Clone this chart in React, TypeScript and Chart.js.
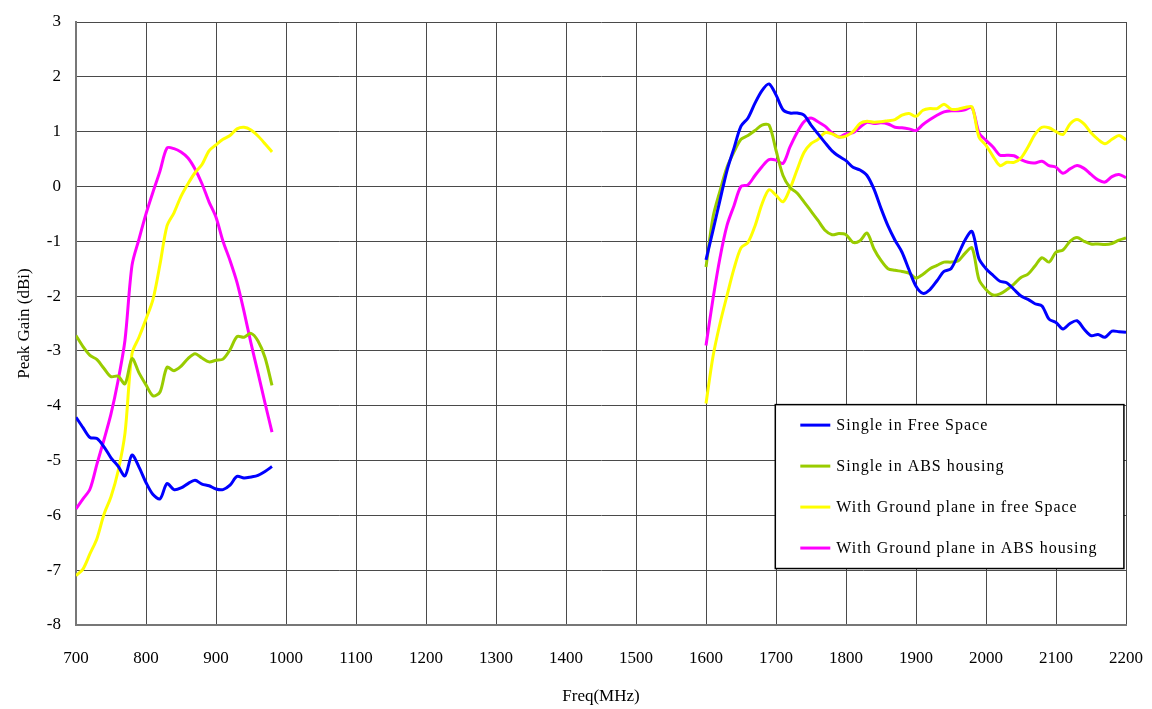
import React, { useEffect, useRef } from "react";
import { Chart, registerables } from "chart.js";

Chart.register(...registerables);

const freqLow = [700, 710, 720, 730, 740, 750, 760, 770, 780, 790, 800, 810, 820, 830, 840, 850, 860, 870, 880, 890, 900, 910, 920, 930, 940, 950, 960, 970, 980];
const freqHigh = [1600, 1610, 1620, 1630, 1640, 1650, 1660, 1670, 1680, 1690, 1700, 1710, 1720, 1730, 1740, 1750, 1760, 1770, 1780, 1790, 1800, 1810, 1820, 1830, 1840, 1850, 1860, 1870, 1880, 1890, 1900, 1910, 1920, 1930, 1940, 1950, 1960, 1970, 1980, 1990, 2000, 2010, 2020, 2030, 2040, 2050, 2060, 2070, 2080, 2090, 2100, 2110, 2120, 2130, 2140, 2150, 2160, 2170, 2180, 2190, 2200];

const singleFreeLow = [-4.21, -4.40, -4.58, -4.60, -4.75, -4.95, -5.10, -5.28, -4.90, -5.12, -5.40, -5.62, -5.70, -5.42, -5.53, -5.50, -5.42, -5.36, -5.43, -5.46, -5.52, -5.53, -5.45, -5.29, -5.32, -5.30, -5.27, -5.20, -5.11];
const singleFreeHigh = [-1.34, -0.80, -0.25, 0.29, 0.70, 1.10, 1.25, 1.52, 1.75, 1.87, 1.67, 1.40, 1.34, 1.34, 1.30, 1.12, 0.96, 0.80, 0.65, 0.55, 0.47, 0.35, 0.30, 0.20, -0.05, -0.40, -0.72, -0.98, -1.20, -1.52, -1.82, -1.95, -1.88, -1.72, -1.55, -1.50, -1.25, -0.98, -0.82, -1.32, -1.50, -1.62, -1.73, -1.76, -1.88, -2.00, -2.06, -2.14, -2.18, -2.42, -2.48, -2.60, -2.50, -2.45, -2.60, -2.72, -2.70, -2.75, -2.64, -2.65, -2.66];

const singleAbsLow = [-2.72, -2.92, -3.08, -3.16, -3.32, -3.47, -3.46, -3.60, -3.14, -3.40, -3.62, -3.82, -3.75, -3.30, -3.36, -3.28, -3.14, -3.05, -3.13, -3.20, -3.17, -3.15, -2.98, -2.74, -2.75, -2.68, -2.82, -3.12, -3.63];
const singleAbsHigh = [-1.47, -0.56, -0.08, 0.35, 0.63, 0.86, 0.93, 1.02, 1.12, 1.12, 0.66, 0.20, -0.02, -0.12, -0.28, -0.45, -0.62, -0.80, -0.88, -0.86, -0.88, -1.02, -0.99, -0.85, -1.14, -1.35, -1.50, -1.53, -1.55, -1.58, -1.67, -1.60, -1.50, -1.44, -1.38, -1.38, -1.36, -1.22, -1.12, -1.70, -1.88, -1.98, -1.96, -1.88, -1.78, -1.66, -1.60, -1.45, -1.30, -1.38, -1.20, -1.16, -1.00, -0.93, -1.00, -1.05, -1.05, -1.06, -1.04, -0.98, -0.94];

const gpFreeLow = [-7.10, -6.98, -6.70, -6.42, -5.98, -5.66, -5.20, -4.50, -3.05, -2.75, -2.42, -2.06, -1.42, -0.72, -0.48, -0.18, 0.05, 0.25, 0.40, 0.65, 0.76, 0.86, 0.93, 1.05, 1.08, 1.03, 0.92, 0.78, 0.63];
const gpFreeHigh = [-3.96, -3.10, -2.50, -1.99, -1.50, -1.12, -1.02, -0.72, -0.32, -0.06, -0.16, -0.28, -0.04, 0.30, 0.62, 0.78, 0.86, 0.98, 0.96, 0.90, 0.92, 1.00, 1.15, 1.19, 1.17, 1.18, 1.20, 1.22, 1.30, 1.33, 1.28, 1.39, 1.42, 1.42, 1.50, 1.41, 1.41, 1.44, 1.45, 0.90, 0.75, 0.55, 0.38, 0.44, 0.44, 0.52, 0.72, 0.95, 1.08, 1.07, 1.00, 0.95, 1.14, 1.22, 1.14, 0.98, 0.86, 0.78, 0.86, 0.93, 0.85];

const gpAbsLow = [-5.88, -5.70, -5.52, -5.06, -4.62, -4.15, -3.55, -2.80, -1.44, -0.96, -0.50, -0.10, 0.28, 0.70, 0.69, 0.63, 0.52, 0.32, 0.05, -0.28, -0.56, -1.00, -1.35, -1.75, -2.28, -2.86, -3.40, -3.95, -4.48];
const gpAbsHigh = [-2.90, -2.05, -1.30, -0.71, -0.35, 0.00, 0.03, 0.20, 0.36, 0.49, 0.48, 0.42, 0.72, 0.98, 1.18, 1.25, 1.18, 1.10, 0.98, 0.90, 0.96, 0.98, 1.08, 1.17, 1.15, 1.16, 1.14, 1.08, 1.07, 1.05, 1.02, 1.13, 1.22, 1.30, 1.36, 1.38, 1.38, 1.40, 1.44, 0.98, 0.84, 0.72, 0.57, 0.57, 0.56, 0.49, 0.44, 0.43, 0.46, 0.38, 0.35, 0.24, 0.32, 0.38, 0.33, 0.22, 0.12, 0.08, 0.18, 0.22, 0.16];

const seriesLabels = [
  "Single in Free Space",
  "Single in ABS housing",
  "With Ground plane in free Space",
  "With Ground plane in ABS housing",
];
const seriesColors = ["#0000FF", "#99CC00", "#FFFF00", "#FF00FF"];

const xTitle = "Freq(MHz)";
const yTitle = "Peak Gain (dBi)";

const FONT = "'Liberation Serif', 'Times New Roman', serif";

function build(low: number[], high: number[]) {
  const pts: { x: number; y: number | null }[] = [];
  freqLow.forEach((f, i) => pts.push({ x: f, y: low[i] }));
  pts.push({ x: 1300, y: null });
  freqHigh.forEach((f, i) => pts.push({ x: f, y: high[i] }));
  return pts;
}

const legendPlugin = {
  id: "boxLegend",
  afterDraw(chart: any) {
    const ctx = chart.ctx as CanvasRenderingContext2D;
    const xs = chart.scales.x;
    const ys = chart.scales.y;
    const left = xs.getPixelForValue(1699);
    const right = xs.getPixelForValue(2197);
    const top = ys.getPixelForValue(-3.98);
    const bottom = ys.getPixelForValue(-6.97);
    ctx.save();
    ctx.fillStyle = "#ffffff";
    ctx.fillRect(left, top, right - left, bottom - top);
    ctx.strokeStyle = "#000000";
    ctx.lineWidth = 1.5;
    ctx.strokeRect(left, top, right - left, bottom - top);
    const rowH = (bottom - top) / 4;
    ctx.font = `16px ${FONT}`;
    (ctx as any).letterSpacing = "1px";
    ctx.textBaseline = "middle";
    ctx.textAlign = "left";
    chart.data.datasets.forEach((ds: any, i: number) => {
      const y = top + rowH * (i + 0.5);
      ctx.strokeStyle = ds.borderColor;
      ctx.lineWidth = 3;
      ctx.beginPath();
      ctx.moveTo(left + 25, y);
      ctx.lineTo(left + 55, y);
      ctx.stroke();
      ctx.fillStyle = "#000000";
      ctx.fillText(ds.label, left + 61, y + 1);
    });
    ctx.restore();
  },
};

export default function App() {
  const ref = useRef<HTMLCanvasElement | null>(null);
  useEffect(() => {
    document.body.style.margin = "0";
    const lows = [singleFreeLow, singleAbsLow, gpFreeLow, gpAbsLow];
    const highs = [singleFreeHigh, singleAbsHigh, gpFreeHigh, gpAbsHigh];
    const chart = new Chart(ref.current as HTMLCanvasElement, {
      type: "line",
      data: {
        datasets: seriesLabels.map((label, i) => ({
          label,
          data: build(lows[i], highs[i]),
          borderColor: seriesColors[i],
          backgroundColor: seriesColors[i],
          borderWidth: 3,
          pointRadius: 0,
          tension: 0.3,
          spanGaps: false,
        })),
      },
      options: {
        animation: false,
        responsive: false,
        layout: { padding: { left: 0, right: 26, top: 22, bottom: 2 } },
        plugins: {
          legend: { display: false },
          tooltip: { enabled: false },
        },
        scales: {
          x: {
            type: "linear",
            min: 700,
            max: 2200,
            afterFit: (s: any) => {
              s.height = 709 - 2 - 625;
              s.paddingLeft = 0;
              s.paddingRight = 0;
            },
            ticks: {
              stepSize: 100,
              padding: 23,
              color: "#000",
              font: { family: FONT, size: 17 },
              maxRotation: 0,
              callback: (v: any) => String(v),
            },
            grid: { color: "#4a4a4a", lineWidth: 1, drawTicks: false },
            border: { color: "#777", width: 2 },
            title: {
              display: true,
              text: xTitle,
              color: "#000",
              font: { family: FONT, size: 17 },
              padding: 0,
            },
          },
          y: {
            type: "linear",
            min: -8,
            max: 3,
            afterFit: (s: any) => {
              s.width = 76;
              s.paddingTop = 0;
              s.paddingBottom = 0;
            },
            ticks: {
              stepSize: 1,
              padding: 15,
              color: "#000",
              font: { family: FONT, size: 17 },
            },
            grid: { color: "#4a4a4a", lineWidth: 1, drawTicks: false },
            border: { color: "#777", width: 2 },
            title: {
              display: true,
              text: yTitle,
              color: "#000",
              font: { family: FONT, size: 17 },
              padding: { top: 14, bottom: 0 },
            },
          },
        },
      },
      plugins: [legendPlugin],
    });
    return () => chart.destroy();
  }, []);
  return (
    <div style={{ position: "fixed", left: 0, top: 0, width: 1152, height: 709, background: "#fff" }}>
      <canvas ref={ref} width={1152} height={709} />
    </div>
  );
}
